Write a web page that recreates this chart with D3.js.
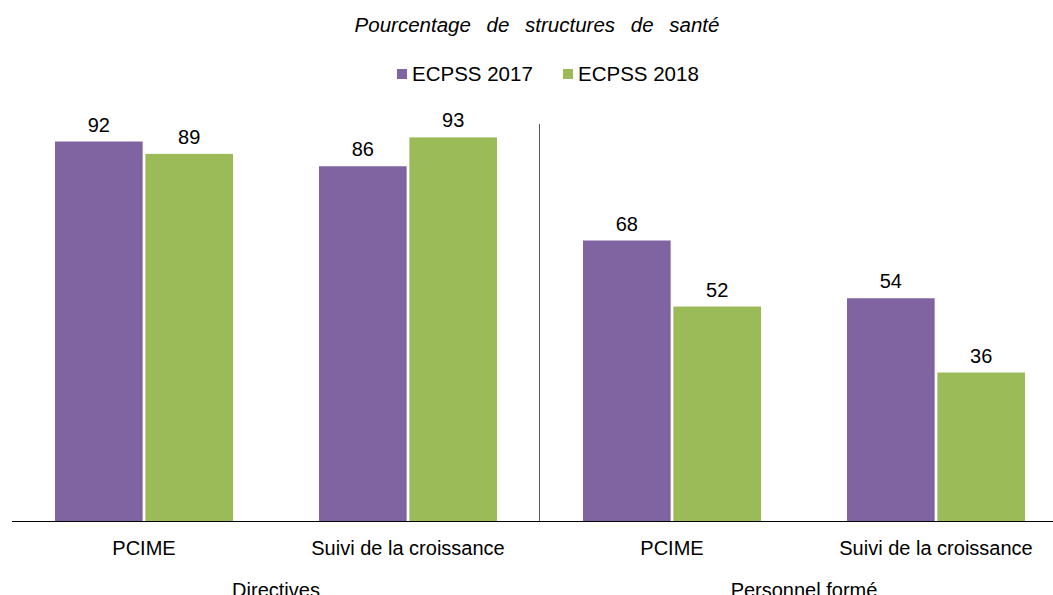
<!DOCTYPE html>
<html lang="fr">
<head>
<meta charset="utf-8">
<title>Pourcentage de structures de santé</title>
<script src="https://cdn.jsdelivr.net/npm/d3@7"></script>
<style>
body { margin: 0; background: #fff; }
text { font-family: "Liberation Sans", Arial, sans-serif; fill: #000; font-size: 20px; }
</style>
</head>
<body>
<div id="chart"></div>
<script>
// data
var categories = ["PCIME", "Suivi de la croissance", "PCIME", "Suivi de la croissance"];
var groups = ["Directives", "Personnel formé"];
var seriesNames = ["ECPSS 2017", "ECPSS 2018"];
var values2017 = [92, 86, 68, 54];
var values2018 = [89, 93, 52, 36];
var colors = ["#8064A2", "#9BBB59"];

var width = 1053, height = 595;
var baseline = 521;

var svg = d3.select("#chart").append("svg")
    .attr("width", width)
    .attr("height", height);

var x = d3.scaleBand()
    .domain(d3.range(categories.length))
    .range([12, 1068]);

var xInner = d3.scaleBand()
    .domain(seriesNames)
    .range([43, x.bandwidth() - 43])
    .paddingInner(0.03);

var y = d3.scaleLinear()
    .domain([0, 100])
    .range([baseline, baseline - 412.5]);

// title
svg.append("text")
    .attr("x", 537)
    .attr("y", 32)
    .attr("text-anchor", "middle")
    .style("font-size", "20.5px")
    .style("font-style", "italic")
    .style("word-spacing", "10px")
    .text("Pourcentage de structures de santé");

// legend
var legend = svg.append("g")
    .attr("transform", "translate(397,74)");
var item = legend.selectAll(".item")
    .data(seriesNames)
    .enter().append("g")
        .attr("class", "item")
        .attr("transform", function(d, i) { return "translate(" + (i * 166) + ",0)"; });
item.append("rect")
    .attr("x", 0).attr("y", -5)
    .attr("width", 10).attr("height", 10)
    .attr("fill", function(d, i) { return colors[i]; });
item.append("text")
    .attr("x", 15)
    .attr("y", 7)
    .style("font-size", "20.5px")
    .text(function(d) { return d; });

// bars
var rows = categories.map(function(c, i) {
    return [values2017[i], values2018[i]];
});

var cat = svg.selectAll(".cat")
    .data(rows)
    .enter().append("g")
        .attr("class", "cat")
        .attr("transform", function(d, i) { return "translate(" + x(i) + ",0)"; });

cat.selectAll("rect")
    .data(function(d) { return d; })
    .enter().append("rect")
        .attr("x", function(d, j) { return xInner(seriesNames[j]); })
        .attr("y", function(d) { return y(d); })
        .attr("width", xInner.bandwidth())
        .attr("height", function(d) { return baseline - y(d); })
        .attr("fill", function(d, j) { return colors[j]; });

cat.selectAll(".val")
    .data(function(d) { return d; })
    .enter().append("text")
        .attr("class", "val")
        .attr("x", function(d, j) { return xInner(seriesNames[j]) + xInner.bandwidth() / 2; })
        .attr("y", function(d) { return y(d) - 10; })
        .attr("text-anchor", "middle")
        .text(function(d) { return d; });

// x axis line
svg.append("line")
    .attr("x1", 12).attr("x2", width)
    .attr("y1", baseline + 0.5).attr("y2", baseline + 0.5)
    .attr("stroke", "#000");

// separator between groups
svg.append("line")
    .attr("x1", x(2) - 0.5).attr("x2", x(2) - 0.5)
    .attr("y1", 124).attr("y2", baseline)
    .attr("stroke", "#555");

// category labels
svg.selectAll(".cat-label")
    .data(categories)
    .enter().append("text")
        .attr("class", "cat-label")
        .attr("x", function(d, i) { return x(i) + x.bandwidth() / 2; })
        .attr("y", 555)
        .attr("text-anchor", "middle")
        .text(function(d) { return d; });

// group labels (cut by the bottom edge, as in the reference)
svg.selectAll(".grp-label")
    .data(groups)
    .enter().append("text")
        .attr("class", "grp-label")
        .attr("x", function(d, i) { return x(i * 2) + x.bandwidth(); })
        .attr("y", 597)
        .attr("text-anchor", "middle")
        .text(function(d) { return d; });
</script>
</body>
</html>
